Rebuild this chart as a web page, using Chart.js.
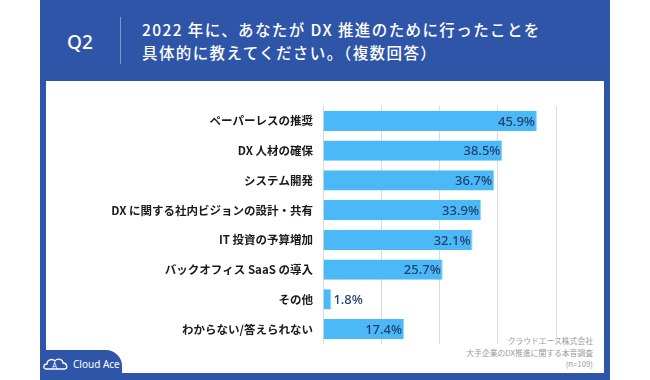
<!DOCTYPE html>
<html lang="ja">
<head>
<meta charset="utf-8">
<script src="https://cdn.jsdelivr.net/npm/chart.js@4"></script>
<style>
  html, body { margin:0; padding:0; background:#fff; width:650px; height:380px; overflow:hidden; }
  body { position:relative; font-family:"Noto Sans CJK JP","Noto Sans",sans-serif; }
  #frame { position:absolute; left:40px; top:0; width:570px; height:380px; background:#2f55a8; }
  #panel { position:absolute; left:46px; top:81px; width:558px; height:292px; background:#fff; }
  #tab { position:absolute; left:40px; top:350px; width:82px; height:30px; background:#2f55a8; border-top-right-radius:16px; }
  #q { position:absolute; left:67px; top:29px; color:#fff; font-size:19px; font-weight:500; font-family:"Noto Sans","Noto Sans CJK JP",sans-serif; }
  #divider { position:absolute; left:120px; top:17px; width:1px; height:47px; background:#7f97cc; }
  #title { position:absolute; left:142px; top:18px; color:#fff; font-size:15.5px; line-height:23px; font-weight:500; white-space:nowrap; letter-spacing:1.4px; }
  #src { position:absolute; right:57px; top:335px; color:#9a9a9a; font-size:7.8px; line-height:11.5px; text-align:right; }
  #logo { position:absolute; left:43px; top:357px; color:#fff; font-size:10px; font-family:"Noto Sans",sans-serif; display:flex; align-items:center; gap:3px; }
  canvas { position:absolute; left:0; top:0; }
</style>
</head>
<body>
<div id="frame"></div>
<div id="panel"></div>
<div id="tab"></div>
<div id="q">Q2</div>
<div id="divider"></div>
<div id="title">2022 年に、あなたが DX 推進のために行ったことを<br>具体的に教えてください。（複数回答）</div>
<div id="src">クラウドエース株式会社<br>大手企業のDX推進に関する本音調査<br>(n=109)</div>
<div id="logo">
  <svg width="27" height="14" viewBox="0 0 27 14"><path d="M3 12 C0 12 0 7 4 7 C4 3 9 1 12 4 C14 1 20 2 20 6 C24 6 25 11 22 12 Z" fill="none" stroke="#fff" stroke-width="1.3"/><text x="9" y="12" font-size="8" fill="#fff" font-family="Noto Sans">A</text></svg>
  <span>Cloud Ace</span>
</div>
<canvas id="c" width="650" height="380"></canvas>
<script>
const categories = [
  "ペーパーレスの推奨",
  "DX 人材の確保",
  "システム開発",
  "DX に関する社内ビジョンの設計・共有",
  "IT 投資の予算増加",
  "バックオフィス SaaS の導入",
  "その他",
  "わからない/答えられない"
];
const values = [45.9, 38.5, 36.7, 33.9, 32.1, 25.7, 1.8, 17.4];

const labelPlugin = {
  id: 'valueLabels',
  afterDatasetsDraw(chart) {
    const ctx = chart.ctx;
    const meta = chart.getDatasetMeta(0);
    ctx.save();
    ctx.font = '500 13px "Noto Sans", "Noto Sans CJK JP", sans-serif';
    ctx.fillStyle = '#24406e';
    ctx.textBaseline = 'middle';
    meta.data.forEach((bar, i) => {
      const txt = values[i].toFixed(1) + '%';
      const w = ctx.measureText(txt).width;
      if (bar.x - bar.base > w + 6) {
        ctx.textAlign = 'right';
        ctx.fillText(txt, bar.x - 2, bar.y + 1);
      } else {
        ctx.textAlign = 'left';
        ctx.fillText(txt, bar.x + 2, bar.y + 1);
      }
    });
    ctx.restore();
  }
};

new Chart(document.getElementById('c'), {
  type: 'bar',
  data: {
    labels: categories,
    datasets: [{
      data: values,
      backgroundColor: '#4bb9f7',
      borderColor: '#8fd3fb',
      borderWidth: { top: 0, bottom: 0, left: 0, right: 1 },
      barPercentage: 0.85,
      categoryPercentage: 0.8
    }]
  },
  options: {
    indexAxis: 'y',
    responsive: false,
    animation: false,
    layout: { padding: { left: 0, right: 94, top: 106, bottom: 36 } },
    plugins: { legend: { display: false }, tooltip: { enabled: false } },
    scales: {
      x: {
        min: 0, max: 50,
        ticks: { display: false, stepSize: 12.5 },
        grid: { color: '#dcdcdc', drawTicks: false, lineWidth: 1 },
        border: { display: false }
      },
      y: {
        afterFit(scale) { scale.width = 323; },
        ticks: {
          color: '#1a1a1a',
          padding: 10,
          font: { family: '"Noto Sans CJK JP", sans-serif', size: 11.5, weight: 'bold' }
        },
        grid: { display: false, drawTicks: false },
        border: { display: false }
      }
    }
  },
  plugins: [labelPlugin]
});
</script>
</body>
</html>
